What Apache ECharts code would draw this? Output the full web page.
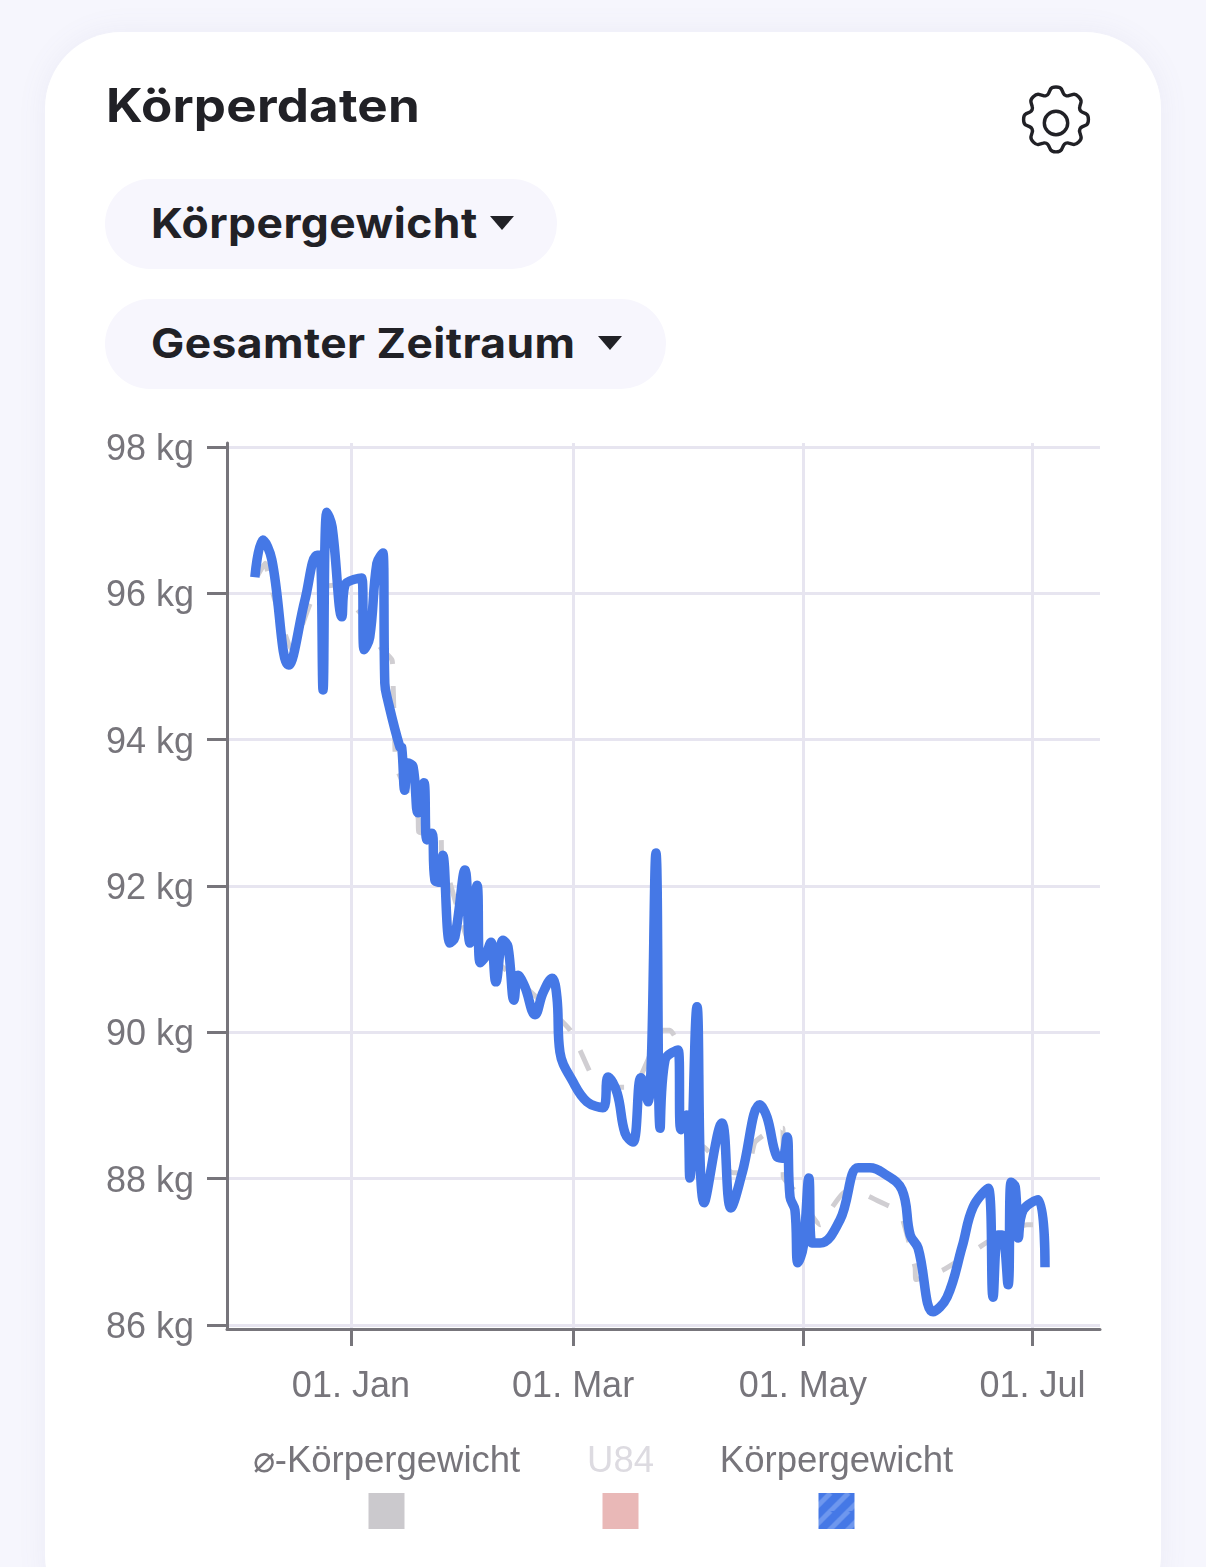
<!DOCTYPE html>
<html lang="de"><head><meta charset="utf-8">
<script src="https://cdn.jsdelivr.net/npm/echarts@6/dist/echarts.min.js"></script>
<style>
html,body{margin:0;padding:0;width:1206px;height:1567px;overflow:hidden;background:#f6f6fd;font-family:Inter,sans-serif}
#card{position:absolute;left:45px;top:32px;width:1116px;height:1600px;background:#fff;border-radius:76px;box-shadow:0 0 30px rgba(120,120,170,.08)}
.t{position:absolute;color:#212126;font-weight:700;white-space:nowrap;line-height:1;transform-origin:left center}
.pill{position:absolute;left:105px;background:#f7f6fd;border-radius:45px;height:90px}
.caret{position:absolute;width:0;height:0;border-left:12px solid transparent;border-right:12px solid transparent;border-top:14px solid #212126}
#chart{position:absolute;left:0;top:0;width:1206px;height:1567px}
</style></head><body>
<div id="card"></div>
<div class="t" style="left:106px;top:82px;font-size:46px;letter-spacing:.2px;transform:scaleX(1.11)">Körperdaten</div>
<div class="pill" style="top:179px;width:452px"></div>
<div class="pill" style="top:299px;width:561px"></div>
<div class="t" style="left:151px;top:203px;font-size:41px;letter-spacing:.4px;transform:scaleX(1.083)">Körpergewicht</div>
<div class="t" style="left:151px;top:323px;font-size:41px;letter-spacing:.4px;transform:scaleX(1.082)">Gesamter Zeitraum</div>
<div class="caret" style="left:490px;top:216px"></div>
<div class="caret" style="left:598px;top:336px"></div>
<svg style="position:absolute;left:1017px;top:84px" width="78" height="78" viewBox="0 0 24 24" fill="none" stroke="#212126" stroke-width="1.05" stroke-linejoin="round">
<circle cx="12" cy="12" r="3.6"/>
<path d="M10.3 1.6c.5-.9 2.9-.9 3.4 0l.6 1.3c.3.6 1 .9 1.6.7l1.4-.4c1-.3 2.6 1.4 2.4 2.4l-.4 1.4c-.2.6.1 1.3.7 1.6l1.3.6c.9.5.9 2.9 0 3.4l-1.3.6c-.6.3-.9 1-.7 1.6l.4 1.4c.3 1-1.4 2.6-2.4 2.4l-1.4-.4c-.6-.2-1.3.1-1.6.7l-.6 1.3c-.5.9-2.9.9-3.4 0l-.6-1.3c-.3-.6-1-.9-1.6-.7l-1.4.4c-1 .3-2.6-1.4-2.4-2.4l.4-1.4c.2-.6-.1-1.3-.7-1.6l-1.3-.6c-.9-.5-.9-2.9 0-3.4l1.3-.6c.6-.3.9-1 .7-1.6l-.4-1.4c-.3-1 1.4-2.6 2.4-2.4l1.4.4c.6.2 1.3-.1 1.6-.7z"/>
</svg>
<div id="chart"></div>
<script>
// Days are counted from 01 Jan
const tickDays = [0, 59, 120, 181];
const tickLabels = ['01. Jan', '01. Mar', '01. May', '01. Jul'];
const kgTicks = [86, 88, 90, 92, 94, 96, 98];
const legendNames = ['⌀-Körpergewicht', 'U84', 'Körpergewicht'];

const weightDays = [-25.5,-23.4,-21.0,-16.5,-12.2,-9.0,-8.2,-7.4,-6.4,-5.0,-2.4,-1.6,2.9,3.5,5.0,6.9,8.5,9.0,9.6,13.0,13.5,14.3,15.1,16.5,17.8,19.4,20.2,21.5,22.3,23.6,24.4,26.3,27.6,30.3,31.6,33.5,34.3,35.6,37.2,38.5,40.4,41.7,43.3,44.4,46.2,48.9,51.0,53.4,54.7,55.5,59.0,62.7,66.9,68.3,70.7,72.8,74.9,77.0,78.9,81.0,82.1,83.4,86.9,87.6,89.2,90.0,91.9,93.8,98.5,100.9,103.9,108.6,110.5,113.1,114.5,115.8,116.6,117.9,118.7,120.1,121.6,122.4,124.6,129.9,134.7,137.8,141.3,146.3,148.5,150.6,154.6,158.3,162.3,165.2,169.2,170.5,171.8,172.9,174.5,175.3,176.4,177.2,178.5,182.5,184.3];
const weightKg = [96.22,96.73,96.46,95.02,95.91,96.52,96.52,94.68,97.11,96.91,95.68,96.11,96.21,95.23,95.40,96.41,96.55,94.77,94.58,93.90,93.89,93.31,93.68,93.63,93.00,93.41,92.63,92.72,92.08,92.05,92.42,91.22,91.30,92.22,91.22,92.01,90.95,91.03,91.23,90.69,91.26,91.17,90.44,90.78,90.62,90.24,90.54,90.74,90.48,89.73,89.32,89.05,88.97,89.39,89.17,88.62,88.50,89.38,89.05,92.45,88.69,89.62,89.76,88.67,88.87,88.01,90.35,87.67,88.76,87.60,88.08,89.01,88.84,88.30,88.28,88.57,87.75,87.57,86.85,87.07,88.01,87.12,87.12,87.44,88.15,88.15,88.08,87.85,87.23,87.05,86.18,86.38,87.07,87.61,87.87,86.38,87.23,87.23,86.55,87.95,87.89,87.19,87.57,87.71,86.79];

const avgDays = [-24.7,-22.8,-21.0,-15.7,-10.4,-6.9,-4.8,0.5,5.8,7.7,10.9,11.2,11.7,12.0,17.8,18.0,23.9,24.1,31.6,39.6,52.1,58.2,60.8,66.1,74.9,82.9,84.7,86.9,87.4,94.0,101.5,105.2,107.3,113.1,114.7,114.8,118.5,124.6,127.8,131.2,136.5,141.0,145.8,149.8,150.0,157.2,166.5,168.9,179.5,181.1];
const avgKg = [96.25,96.41,96.05,95.23,95.91,96.09,96.11,95.84,95.54,95.27,95.09,94.77,93.86,93.63,92.94,92.74,92.66,92.46,91.19,90.92,90.35,90.03,89.76,89.25,89.25,90.03,90.03,89.85,88.67,88.42,88.08,88.08,88.50,88.69,88.69,88.02,87.80,87.37,87.61,87.82,87.78,87.67,87.54,86.79,86.62,86.75,87.05,87.13,87.37,87.37];

const zip = (a, b) => a.map((v, i) => [v, b[i]]);
const AXIS = '#77757b', GRID = '#e7e5f0', FONT = '"Liberation Sans", Arial, sans-serif';

// striped swatch for the weight legend entry
const pat = document.createElement('canvas'); pat.width = 18; pat.height = 18;
const c = pat.getContext('2d');
c.fillStyle = '#4578e6'; c.fillRect(0, 0, 18, 18);
c.strokeStyle = '#6e97ee'; c.lineWidth = 5; c.beginPath();
[[-6,18,12,0],[6,24,24,6],[-18,12,0,-6]].forEach(([a,b,d,e]) => { c.moveTo(a,b); c.lineTo(d,e); }); c.stroke();

const legendX = [386.5, 620.5, 836.5];
const legendColor = ['#77757b', '#dddbe1', '#77757b'];
const legendFill = ['#cbc9cd', '#e9b8b7', {image: pat, repeat: 'repeat'}];
const legendGraphic = [];
legendNames.forEach((n, i) => {
  legendGraphic.push({type:'text', x: legendX[i], y: 1462, style:{text:n, fill:legendColor[i], font:'36.5px '+FONT, align:'center', verticalAlign:'middle'}});
  legendGraphic.push({type:'rect', x: legendX[i]-18, y: 1493, shape:{x:0,y:0,width:36,height:36}, style:{fill:legendFill[i]}});
});

const chart = echarts.init(document.getElementById('chart'), null, {width:1206, height:1567});
chart.setOption({
  animation: false,
  backgroundColor: 'transparent',
  grid: {left: 227, right: 106, top: 443, bottom: 238},
  xAxis: {
    type: 'value', min: -32.9, max: 198.9,
    axisLine: {onZero: false, lineStyle: {color: AXIS, width: 3}},
    axisTick: {show: true, length: 17, lineStyle: {color: AXIS, width: 3}, customValues: tickDays},
    axisLabel: {customValues: tickDays, color: AXIS, fontFamily: FONT, fontSize: 36, margin: 40,
      formatter: v => tickLabels[tickDays.indexOf(v)]},
    splitLine: {show: true, lineStyle: {color: GRID, width: 3}}
  },
  yAxis: {
    type: 'value', min: 85.945, max: 98.055,
    axisLine: {show: true, onZero: false, lineStyle: {color: AXIS, width: 3}},
    axisTick: {show: true, length: 20, lineStyle: {color: AXIS, width: 3}, customValues: kgTicks},
    axisLabel: {customValues: kgTicks, color: AXIS, fontFamily: FONT, fontSize: 36, margin: 33,
      verticalAlign: 'top', lineHeight: 6,
      formatter: v => v + ' kg'},
    splitLine: {show: true, lineStyle: {color: GRID, width: 3}}
  },
  series: [
    {name: legendNames[0], type: 'line', data: zip(avgDays, avgKg), showSymbol: false, smooth: 0.15,
      lineStyle: {color: '#d0ced2', width: 5, type: [22, 22]}, z: 2},
    {name: legendNames[1], type: 'line', data: [], showSymbol: false, lineStyle: {color: '#e9b8b7'}},
    {name: legendNames[2], type: 'line', data: zip(weightDays, weightKg), showSymbol: false,
      smooth: 0.4,
      lineStyle: {color: '#4578e6', width: 9.5, join: 'round', cap: 'butt'}, z: 3}
  ],
  graphic: legendGraphic
});
</script>
</body></html>
